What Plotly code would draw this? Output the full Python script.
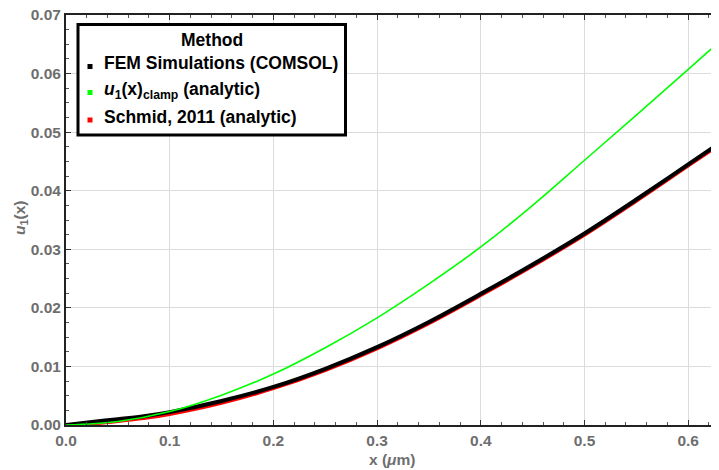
import plotly.graph_objects as go

# Data
x_fem = [0.0, 0.025, 0.05, 0.075, 0.1, 0.15, 0.2, 0.25, 0.3, 0.35, 0.4, 0.45, 0.5, 0.55, 0.6, 0.65]
u_fem = [0.0, 0.0005, 0.0010, 0.0015, 0.0022, 0.0041, 0.0065, 0.0096, 0.0133, 0.0176, 0.0224, 0.0274, 0.0327, 0.0385, 0.0445, 0.0505]

x_clamp = [0.0, 0.05, 0.1, 0.15, 0.2, 0.25, 0.3, 0.35, 0.4, 0.45, 0.5, 0.55, 0.6, 0.65]
u_clamp = [0.0, 0.0006, 0.0023, 0.0051, 0.0087, 0.0132, 0.0183, 0.0241, 0.0304, 0.0375, 0.0452, 0.0529, 0.0607, 0.0686]

x_schmid = [0.0, 0.025, 0.05, 0.075, 0.1, 0.15, 0.2, 0.25, 0.3, 0.35, 0.4, 0.45, 0.5, 0.55, 0.6, 0.65]
u_schmid = [0.0, 0.0002, 0.0006, 0.0011, 0.0018, 0.0037, 0.0062, 0.0093, 0.0130, 0.0173, 0.0221, 0.0271, 0.0324, 0.0382, 0.0442, 0.0502]

legend_title = "Method"
legend_names = ["FEM Simulations (COMSOL)",
                "<i>u</i><sub>1</sub>(x)<sub>clamp</sub> (analytic)",
                "Schmid, 2011 (analytic)"]
legend_colors = ["#000000", "#00ff00", "#ff0000"]

x_ticks = [0.0, 0.1, 0.2, 0.3, 0.4, 0.5, 0.6]
y_ticks = [0.0, 0.01, 0.02, 0.03, 0.04, 0.05, 0.06, 0.07]

FONT = "Arial, Liberation Sans, sans-serif"
GRAY = "#6e6e6e"

# page body has an 8px margin: figure starts at window px 8
OFF = 8
W, H = 719 - OFF, 470 - OFF
PL, PR, PT, PB = 66, 719, 15, 425  # plot area in window pixels


def px(xw):
    return (xw - PL) / (PR - PL)


def py(yw):
    return (PB - yw) / (PB - PT)


fig = go.Figure()

fig.add_trace(go.Scatter(x=x_schmid, y=u_schmid, mode="lines", line=dict(color="#ff0000", width=3, shape="spline"),
                         name="Schmid, 2011 (analytic)", showlegend=False, hoverinfo="skip"))
fig.add_trace(go.Scatter(x=x_fem, y=u_fem, mode="lines", line=dict(color="#000000", width=4, shape="spline"),
                         name="FEM Simulations (COMSOL)", showlegend=False, hoverinfo="skip"))
fig.add_trace(go.Scatter(x=x_clamp, y=u_clamp, mode="lines", line=dict(color="#00ff00", width=1.6, shape="spline"),
                         name="u1(x) clamp (analytic)", showlegend=False, hoverinfo="skip"))

# Legend drawn as a framed box
shapes = [dict(type="rect", xref="paper", yref="paper",
               x0=px(78), x1=px(345.5), y0=py(135), y1=py(24.5),
               line=dict(color="black", width=3), fillcolor="white", layer="above")]
annotations = [dict(text=f"<b>{legend_title}</b>", xref="paper", yref="paper", x=px(212), y=py(40),
                    xanchor="center", yanchor="middle", showarrow=False,
                    font=dict(family=FONT, size=17.5, color="black"))]
row_text_y = [63, 90, 117]
row_mark_y = [66.5, 92.5, 120]
for name, c, ty, my in zip(legend_names, legend_colors, row_text_y, row_mark_y):
    shapes.append(dict(type="rect", xref="paper", yref="paper",
                       x0=px(87.5), x1=px(92.5), y0=py(my + 2.5), y1=py(my - 2.5),
                       line=dict(width=0), fillcolor=c, layer="above"))
    annotations.append(dict(text=f"<b>{name}</b>", xref="paper", yref="paper", x=px(102), y=py(ty),
                            xanchor="left", yanchor="middle", showarrow=False,
                            font=dict(family=FONT, size=17.5, color="black")))

annotations += [
    dict(text="<b>x (<i>μ</i>m)</b>", xref="paper", yref="paper", x=px(392), y=py(459),
         xanchor="center", yanchor="middle", showarrow=False,
         font=dict(family=FONT, size=15.5, color=GRAY)),
    dict(text="<b><i>u</i><sub>1</sub>(x)</b>", xref="paper", yref="paper", x=px(20), y=py(218),
         xanchor="center", yanchor="middle", showarrow=False, textangle=-90,
         font=dict(family=FONT, size=15.5, color=GRAY)),
]

fig.update_layout(
    width=W, height=H,
    margin=dict(l=PL - OFF, r=0, t=PT - OFF, b=(H + OFF) - PB, autoexpand=False, pad=0),
    plot_bgcolor="white", paper_bgcolor="white",
    font=dict(family=FONT, size=15, color=GRAY),
    showlegend=False,
    shapes=shapes,
    annotations=annotations,
)

fig.update_xaxes(
    range=[0, 0.6297], tickvals=x_ticks, ticktext=[f"{v:.1f}" for v in x_ticks],
    tickfont=dict(family=FONT, size=15.5, color=GRAY, weight="bold"),
    showgrid=True, gridcolor="#dcdcdc", gridwidth=1,
    showline=True, linecolor="#222222", linewidth=2, mirror="ticks",
    ticks="inside", ticklen=5, tickcolor="#333333",
    minor=dict(dtick=0.02, tick0=0, ticks="inside", ticklen=3, tickcolor="#555555", showgrid=False),
    zeroline=False, automargin=False, ticklabeloverflow="allow",
)
fig.update_yaxes(
    range=[0, 0.07], tickvals=y_ticks, ticktext=[f"{v:.2f}" for v in y_ticks],
    tickfont=dict(family=FONT, size=15.5, color=GRAY, weight="bold"),
    showgrid=True, gridcolor="#dcdcdc", gridwidth=1,
    showline=True, linecolor="#222222", linewidth=2,
    ticks="inside", ticklen=5, tickcolor="#333333",
    minor=dict(dtick=0.0025, tick0=0, ticks="inside", ticklen=3, tickcolor="#555555", showgrid=False),
    zeroline=False, automargin=False, ticklabeloverflow="allow",
)

fig.write_html("out.html")
